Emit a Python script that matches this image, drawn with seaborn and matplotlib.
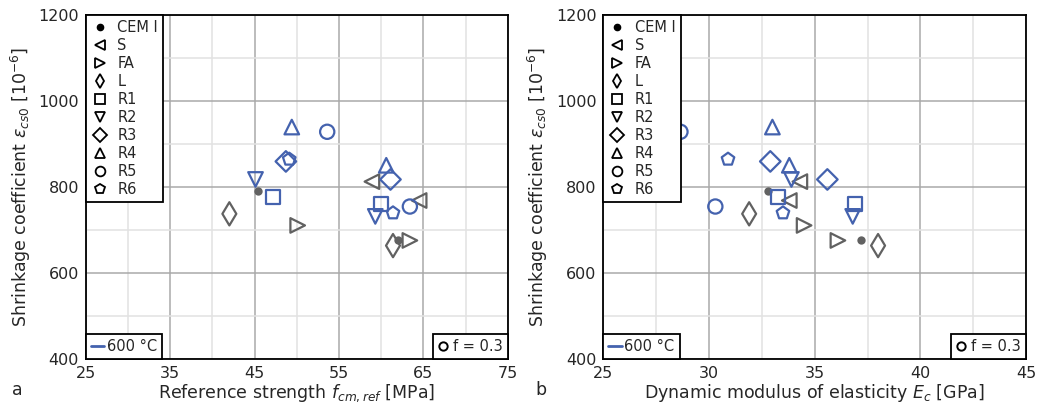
import pandas as pd
import seaborn as sns
import matplotlib.pyplot as plt
from matplotlib.lines import Line2D
from matplotlib.ticker import MultipleLocator

# mixes, two data points per mix
mix = ["CEM I", "CEM I", "S", "S", "FA", "FA", "L", "L",
       "R1", "R1", "R2", "R2", "R3", "R3", "R4", "R4", "R5", "R5", "R6", "R6"]
fcm_ref = [45.4, 62.0, 58.9, 64.5, 50.1, 63.4, 42.0, 61.4,
           47.2, 60.0, 45.1, 59.3, 48.7, 61.1, 49.4, 60.6, 53.6, 63.4, 49.1, 61.4]
e_c = [32.8, 37.2, 34.3, 33.8, 34.5, 36.1, 31.9, 38.0,
       33.25, 36.9, 33.9, 36.8, 32.9, 35.6, 33.0, 33.8, 28.65, 30.3, 30.9, 33.5]
eps_cs0 = [792, 678, 813, 769, 711, 676, 738, 664,
           778, 760, 818, 732, 860, 818, 940, 851, 929, 755, 865, 740]

mix_order = ["CEM I", "S", "FA", "L", "R1", "R2", "R3", "R4", "R5", "R6"]
marker_map = {"CEM I": "o", "S": "<", "FA": ">", "L": "d", "R1": "s",
              "R2": "v", "R3": "D", "R4": "^", "R5": "o", "R6": "p"}
size_map = {"CEM I": 36, "S": 110, "FA": 110, "L": 140, "R1": 100,
            "R2": 110, "R3": 110, "R4": 110, "R5": 105, "R6": 90}

GRAY = "#616161"
BLUE = "#4462ae"

df = pd.DataFrame({"mix": mix, "fcm_ref": fcm_ref, "E_c": e_c, "eps": eps_cs0})

sns.set_style("white")
plt.rcParams.update({
    "font.family": ["DejaVu Sans"],
    "font.size": 11,
    "axes.linewidth": 1.3,
    "axes.edgecolor": "black",
    "mathtext.fontset": "dejavusans",
})

fig = plt.figure(figsize=(10.37, 4.03), dpi=100)
ax_a = fig.add_axes([0.0829, 0.1092, 0.4067, 0.8526])
ax_b = fig.add_axes([0.5818, 0.1092, 0.4076, 0.8526])


def draw(ax, xcol, xticks, xminor, xlabel):
    ax.set_axisbelow(True)
    ax.set_xticks(xticks)
    ax.xaxis.set_minor_locator(MultipleLocator(xminor))
    ax.yaxis.set_major_locator(MultipleLocator(200))
    ax.yaxis.set_minor_locator(MultipleLocator(100))
    ax.grid(which="major", color="#a9a9a9", lw=1.1)
    ax.grid(which="minor", color="#e2e2e2", lw=1.1)

    for m in mix_order:
        sub = df[df["mix"] == m]
        col = BLUE if m.startswith("R") else GRAY
        if m == "CEM I":
            sns.scatterplot(data=sub, x=xcol, y="eps", ax=ax, marker="o",
                            s=size_map[m], color=col, edgecolor=col, linewidth=0,
                            zorder=3)
        else:
            sns.scatterplot(data=sub, x=xcol, y="eps", ax=ax, marker=marker_map[m],
                            s=size_map[m], color=col, facecolor="none",
                            edgecolor=col, linewidth=1.6, zorder=3)

    ax.set_xlim(xticks[0], xticks[-1])
    ax.set_ylim(400, 1200)
    ax.tick_params(length=0, pad=5, labelsize=11.5)
    ax.set_xlabel(xlabel, fontsize=12.5, labelpad=1)
    ax.set_ylabel(r"Shrinkage coefficient $\varepsilon_{cs0}$ [$10^{-6}$]",
                  fontsize=12.5, labelpad=4)

    handles = []
    for m in mix_order:
        if m == "CEM I":
            handles.append(Line2D([], [], ls="none", marker="o", ms=4.5,
                                  color="black", label=m))
        else:
            handles.append(Line2D([], [], ls="none", marker=marker_map[m], ms=7,
                                  mfc="none", mec="black", mew=1.3, label=m))
    leg1 = ax.legend(handles=handles, loc="upper left", borderaxespad=0,
                     fancybox=False, framealpha=1, edgecolor="black",
                     fontsize=10.5, labelspacing=0.2, handlelength=1.2,
                     handletextpad=0.6, borderpad=0.35)
    leg1.get_frame().set_linewidth(1.3)
    ax.add_artist(leg1)

    h_temp = [Line2D([], [], color=BLUE, lw=2, label="600 °C")]
    leg2 = ax.legend(handles=h_temp, loc="lower left", borderaxespad=0,
                     fancybox=False, framealpha=1, edgecolor="black",
                     fontsize=10.5, handlelength=0.9, handletextpad=0.2,
                     borderpad=0.35)
    leg2.get_frame().set_linewidth(1.3)
    ax.add_artist(leg2)

    h_f = [Line2D([], [], ls="none", marker="o", ms=6, mfc="none", mec="black",
                  mew=1.4, label="f = 0.3")]
    leg3 = ax.legend(handles=h_f, loc="lower right", borderaxespad=0,
                     fancybox=False, framealpha=1, edgecolor="black",
                     fontsize=10.5, handlelength=0.6, handletextpad=0.4,
                     borderpad=0.35)
    leg3.get_frame().set_linewidth(1.3)


draw(ax_a, "fcm_ref", [25, 35, 45, 55, 65, 75], 5,
     r"Reference strength $f_{cm,ref}$ [MPa]")
draw(ax_b, "E_c", [25, 30, 35, 40, 45], 2.5,
     r"Dynamic modulus of elasticity $E_c$ [GPa]")

fig.text(0.012, 0.02, "a", fontsize=12.5)
fig.text(0.516, 0.02, "b", fontsize=12.5)

fig.savefig("out.png", dpi=100)
